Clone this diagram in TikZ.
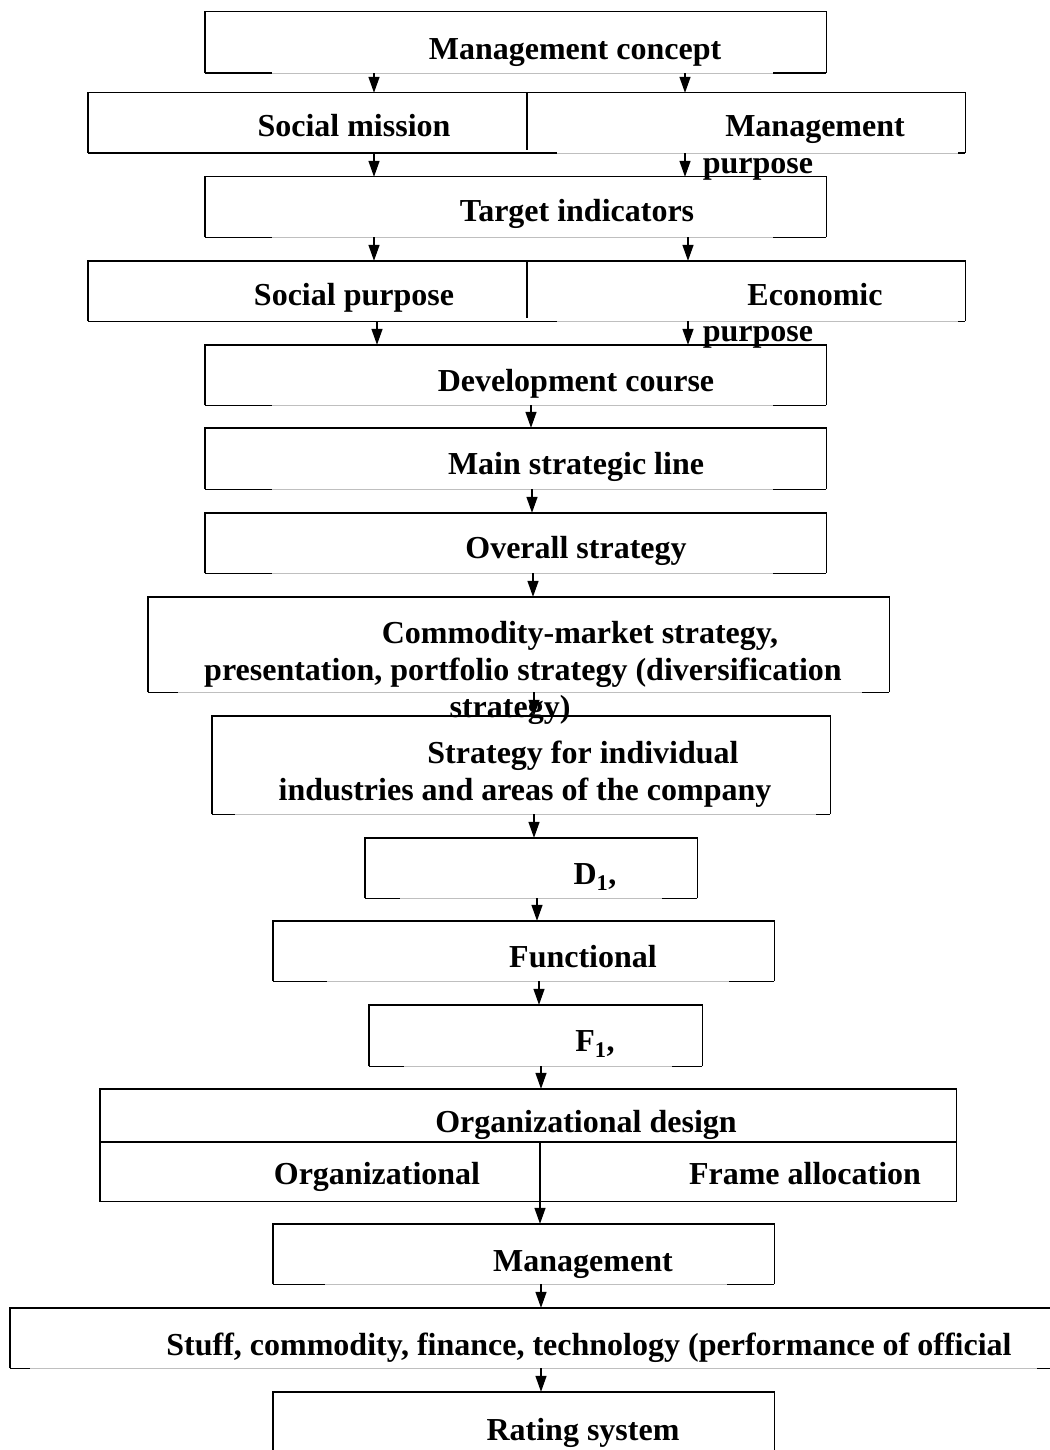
\documentclass[tikz,border=0pt]{standalone}
\usepackage{fontspec}
\setmainfont{Liberation Serif}
\usepackage{tikz}
\usetikzlibrary{arrows.meta,positioning,calc}

\tikzset{
  frame/.style={rectangle,draw=none,inner sep=0pt},
  frameline/.style={line width=1.4pt,black},
  faintline/.style={line width=0.8pt,black!25},
  flow/.style={line width=1.4pt,-{Triangle[length=16pt,width=11pt]}},
  lbl/.style={font=\fontsize{32}{36}\selectfont\bfseries,anchor=base,inner sep=0pt}
}

% box with the bottom edge faded between two short black stubs
\newcommand{\openframe}[3]{%
  \draw[frameline] (#1.south west) -- (#1.north west) -- (#1.north east) -- (#1.south east);
  \draw[faintline] ([xshift=#2pt]#1.south west) -- ([xshift=-#3pt]#1.south east);
  \draw[frameline] (#1.south west) -- ++(#2,0);
  \draw[frameline] (#1.south east) -- ++(-#3,0);}

\begin{document}
\begin{tikzpicture}[x=1pt,y=-1pt]
\useasboundingbox (0,0) rectangle (1049,1450);

% boxes
\node[frame,minimum width=621,minimum height=61] (b1) at (515.5,42.5) {};
\node[frame,minimum width=877,minimum height=60] (b2) at (526.5,123) {};
\node[frame,minimum width=621,minimum height=60] (b3) at (515.5,207) {};
\node[frame,minimum width=877,minimum height=60] (b4) at (526.5,291) {};
\node[frame,minimum width=621,minimum height=60] (b5) at (515.5,375) {};
\node[frame,minimum width=621,minimum height=61] (b6) at (515.5,458.5) {};
\node[frame,minimum width=621,minimum height=60] (b7) at (515.5,543) {};
\node[frame,minimum width=741,minimum height=95] (b8) at (518.5,644.5) {};
\node[frame,minimum width=618,minimum height=98] (b9) at (521,765) {};
\node[frame,minimum width=332,minimum height=60] (b10) at (531,868) {};
\node[frame,minimum width=501,minimum height=60] (b11) at (523.5,951) {};
\node[frame,minimum width=333,minimum height=61] (b12) at (535.5,1035.5) {};
\node[frame,minimum width=856,minimum height=112] (b13) at (528,1145) {};
\node[frame,minimum width=501,minimum height=60] (b14) at (523.5,1254) {};
\node[frame,minimum width=1055,minimum height=60] (b15) at (537.5,1338) {};
\node[frame,minimum width=501,minimum height=68] (b16) at (523.5,1426) {};

\openframe{b1}{67}{53}
\openframe{b2}{469}{7}
\openframe{b3}{67}{53}
\openframe{b4}{469}{7}
\openframe{b5}{67}{53}
\openframe{b6}{67}{53}
\openframe{b7}{67}{53}
\openframe{b8}{30}{27}
\openframe{b9}{23}{14}
\openframe{b10}{35}{35}
\openframe{b11}{54}{45}
\openframe{b12}{35}{30}
\openframe{b14}{52}{47}
\openframe{b15}{20}{28}
\draw[frameline] (b13.south west) rectangle (b13.north east);
\draw[frameline] (b16.south west) rectangle (b16.north east);

% dividers
\draw[frameline] (b2.north -| 527,0) -- ([yshift=3pt]b2.south -| 527,0);
\draw[frameline] (b4.north -| 527,0) -- ([yshift=3pt]b4.south -| 527,0);
\coordinate (split) at (540,1142);
\draw[frameline] (b13.west |- split) -- (b13.east |- split);
\draw[frameline] (split) -- (b13.south -| split);

% texts
\node[lbl] (t1) at (575,60) {Management concept};
\node[lbl] (t2a) at (354,137) {Social mission};
\node[lbl] (t2b) at (815,137) {Management};
\node[lbl] (t2c) at (758,174) {purpose};
\node[lbl] (t3) at (577,222) {Target indicators};
\node[lbl] (t4a) at (354,305) {Social purpose};
\node[lbl] (t4b) at (815,305) {Economic};
\node[lbl] (t4c) at (758,341) {purpose};
\node[lbl] (t5) at (576,391) {Development course};
\node[lbl] (t6) at (576,474) {Main strategic line};
\node[lbl] (t7) at (576,558) {Overall strategy};
\node[lbl] (t8a) at (580,643) {Commodity-market strategy,};
\node[lbl] (t8b) at (523,680) {presentation, portfolio strategy (diversification};
\node[lbl] (t8c) at (510,717) {strategy)};
\node[lbl] (t9a) at (583,763) {Strategy for individual};
\node[lbl] (t9b) at (525,800) {industries and areas of the company};
\node[lbl] (t10) at (595,884) {D\textsubscript{1},};
\node[lbl] (t11) at (583,967) {Functional};
\node[lbl] (t12) at (595,1051) {F\textsubscript{1},};
\node[lbl] (t13a) at (586,1132) {Organizational design};
\node[lbl] (t13b) at (377,1184) {Organizational};
\node[lbl] (t13c) at (805,1184) {Frame allocation};
\node[lbl] (t14) at (583,1271) {Management};
\node[lbl] (t15) at (589,1355) {Stuff, commodity, finance, technology (performance of official};
\node[lbl] (t16) at (583,1440) {Rating system};

% arrows
\draw[flow] (b1.south -| 374,0) -- (b2.north -| 374,0);
\draw[flow] (b1.south -| 685,0) -- (b2.north -| 685,0);
\draw[flow] (b2.south -| 374,0) -- (b3.north -| 374,0);
\draw[flow] (b2.south -| 685,0) -- (b3.north -| 685,0);
\draw[flow] (b3.south -| 374,0) -- (b4.north -| 374,0);
\draw[flow] (b3.south -| 688,0) -- (b4.north -| 688,0);
\draw[flow] (b4.south -| 377,0) -- (b5.north -| 377,0);
\draw[flow] (b4.south -| 688,0) -- (b5.north -| 688,0);
\draw[flow] (b5.south -| 531,0) -- (b6.north -| 531,0);
\draw[flow] (b6.south -| 532,0) -- (b7.north -| 532,0);
\draw[flow] (b7.south -| 533,0) -- (b8.north -| 533,0);
\draw[flow] (b8.south -| 534,0) -- (b9.north -| 534,0);
\draw[flow] (b9.south -| 534,0) -- (b10.north -| 534,0);
\draw[flow] (b10.south -| 537,0) -- (b11.north -| 537,0);
\draw[flow] (b11.south -| 539,0) -- (b12.north -| 539,0);
\draw[flow] (b12.south -| 541,0) -- (b13.north -| 541,0);
\draw[flow] (b13.south -| split) -- (b14.north -| split);
\draw[flow] (b14.south -| 541,0) -- (b15.north -| 541,0);
\draw[flow] (b15.south -| 541,0) -- (b16.north -| 541,0);
\end{tikzpicture}
\end{document}
